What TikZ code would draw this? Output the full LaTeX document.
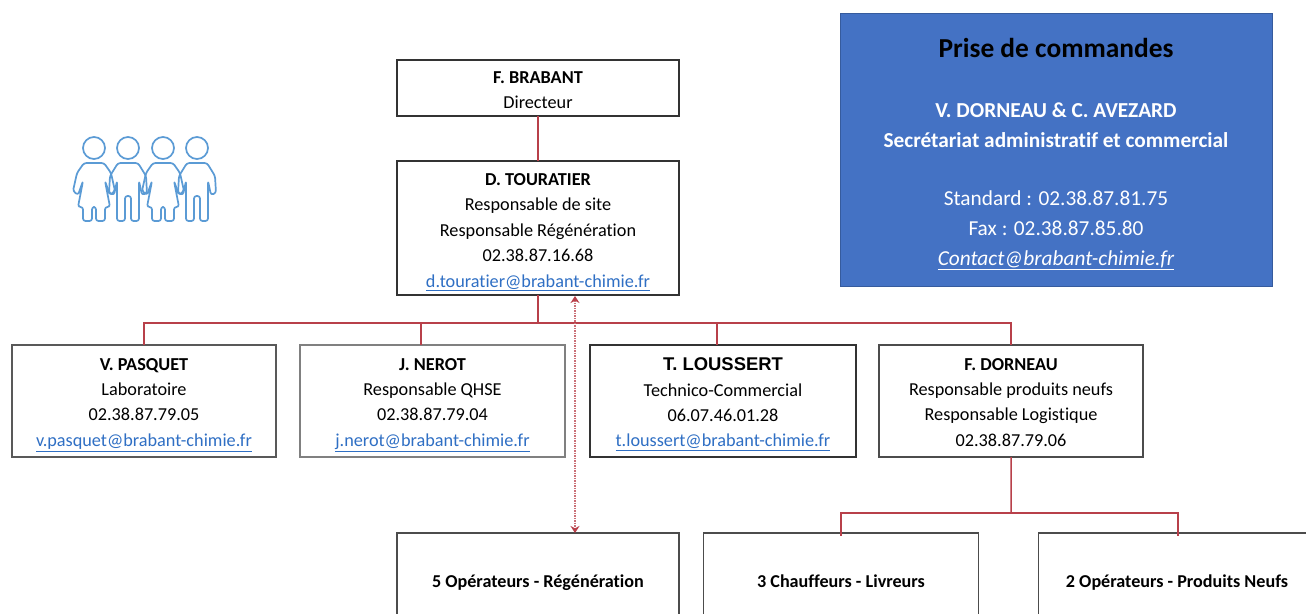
\documentclass[tikz,border=0pt]{standalone}
\usepackage{fontspec}
\setmainfont[Ligatures=NoCommon]{Carlito}
\newfontfamily\arialfont{Liberation Sans}
\usepackage{xcolor}
\usetikzlibrary{arrows.meta,positioning}
\definecolor{BARRED}{HTML}{B8404A}
\definecolor{LINKBLUE}{HTML}{2F6FC4}
\definecolor{ICONBLUE}{HTML}{5B9BD5}
\definecolor{BOXBLUE}{HTML}{4472C4}
\newcommand{\mailto}[1]{\textcolor{LINKBLUE}{\underline{#1}}}
\newcommand{\lift}[1]{\rule{0pt}{#1}}
\tikzstyle{PERSON} = [rectangle, draw=black!80, line width=1.2bp, align=center, inner sep=0pt, outer sep=0pt, font=\fontsize{18.3}{25.5}\selectfont]
\tikzstyle{TEAM} = [PERSON, draw=black!70, minimum height=96bp, text height=14bp, text depth=1bp, font=\fontsize{18.2}{20}\selectfont\bfseries]
\tikzstyle{LINE} = [draw=BARRED, line width=1.5bp]
\tikzstyle{DOTLINE} = [draw=BARRED!75, line width=1.5bp, densely dotted, {Stealth[length=7bp,width=9bp,color=BARRED]}-{Stealth[length=7bp,width=9bp,color=BARRED]}]
\tikzstyle{FIGURE} = [draw=ICONBLUE, line width=1.7bp, line join=round]
\tikzset{
  girl/.pic={
    \draw [FIGURE] (0,0) circle (11);
    \draw [FIGURE, rounded corners=2.5] (-10,15) -- (10,15) -- (17,25) -- (21,43) -- (16,47) -- (11,33) -- (16,59) -- (11,59) -- (11,73) -- (2,73) -- (2,59) -- (-2,59) -- (-2,73) -- (-11,73) -- (-11,59) -- (-16,59) -- (-11,33) -- (-16,47) -- (-21,43) -- (-17,25) -- cycle;
  },
  boy/.pic={
    \draw [FIGURE] (0,0) circle (11);
    \draw [FIGURE, rounded corners=2.5] (-10,15) -- (10,15) -- (18,28) -- (19,45) -- (14,47) -- (11,33) -- (11,73) -- (3,73) -- (3,48) -- (-3,48) -- (-3,73) -- (-11,73) -- (-11,33) -- (-14,47) -- (-19,45) -- (-18,28) -- cycle;
  }
}
\begin{document}
\begin{tikzpicture}[x=1bp, y=-1bp]
\clip (0,0) rectangle (1306,614);
\fill [white] (0,0) rectangle (1306,614);
% Place nodes
\node [PERSON, minimum width=282bp, minimum height=56bp] (brabant) at (538,88) {\lift{16.5bp}\textbf{F. BRABANT}\\Directeur};
\node [PERSON, minimum width=282bp, minimum height=134bp, below=45bp of brabant] (touratier) {\lift{20.5bp}\textbf{D. TOURATIER}\\Responsable de site\\Responsable Régénération\\02.38.87.16.68\\\mailto{d.touratier@brabant-chimie.fr}};
\node [PERSON, draw=black!65, minimum width=264bp, minimum height=112bp] (pasquet) at (144,401) {\lift{19.5bp}\textbf{V. PASQUET}\\Laboratoire\\02.38.87.79.05\\\mailto{v.pasquet@brabant-chimie.fr}};
\node [PERSON, draw=black!50, minimum width=265bp, minimum height=112bp, right=24bp of pasquet] (nerot) {\lift{19.5bp}\textbf{J. NEROT}\\Responsable QHSE\\02.38.87.79.04\\\mailto{j.nerot@brabant-chimie.fr}};
\node [PERSON, minimum width=266bp, minimum height=112bp, right=25bp of nerot] (loussert) {\lift{19.5bp}{\arialfont\fontsize{18.5}{25.5}\selectfont\textbf{T. LOUSSERT}}\\Technico-Commercial\\06.07.46.01.28\\\mailto{t.loussert@brabant-chimie.fr}};
\node [PERSON, draw=black!70, minimum width=264bp, minimum height=112bp, right=23bp of loussert] (dorneau) {\lift{14.5bp}\textbf{F. DORNEAU}\\Responsable produits neufs\\Responsable Logistique\\02.38.87.79.06};
\node [TEAM, minimum width=282bp] (regen) at (538,581) {5 Opérateurs - Régénération};
\node [TEAM, minimum width=275bp] (chauffeurs) at (841,581) {3 Chauffeurs - Livreurs};
\node [TEAM, minimum width=277bp] (neufs) at (1177,581) {2 Opérateurs - Produits Neufs};
\node [rectangle, draw=BOXBLUE!80!black, fill=BOXBLUE, line width=1bp, text=white, align=center, inner sep=0pt, outer sep=0pt, minimum width=432bp, minimum height=272bp, font=\fontsize{21.4}{30}\selectfont] (commandes) at (1056,150) {\lift{27.5bp}{\fontsize{27.5}{30}\selectfont\bfseries\textcolor{black}{Prise de commandes}}\\[30.5bp]\textbf{V. DORNEAU \& C. AVEZARD}\\\textbf{Secrétariat administratif et commercial}\\[28bp]Standard : 02.38.87.81.75\\Fax : 02.38.87.85.80\\\textit{\underline{Contact@brabant-chimie.fr}}};
% Icon
\pic at (94,148) {girl};
\pic at (128,148) {boy};
\pic at (163,148) {girl};
\pic at (197,148) {boy};
% Junctions
\coordinate (bus) at (538,323);
\coordinate (nerotTop) at (421,345);
\coordinate (loussertTop) at (717,345);
\coordinate (subBus) at (1011,513);
\coordinate (chauffeursTop) at (841,536);
\coordinate (neufsTop) at (1178,536);
\coordinate (dotTop) at (575,296);
\coordinate (dotBottom) at (575,533);
% LINES and ARROWS
\path [LINE] (brabant) -- (touratier);
\path [LINE] (touratier) -- (bus);
\path [LINE] (bus) -| (pasquet);
\path [LINE] (bus) -| (nerotTop);
\path [LINE] (bus) -| (loussertTop);
\path [LINE] (bus) -| (dorneau);
\path [LINE] (dorneau) -- (subBus);
\path [LINE] (subBus) -| (chauffeursTop);
\path [LINE] (subBus) -| (neufsTop);
\path [DOTLINE] (dotTop) -- (dotBottom);
\end{tikzpicture}
\end{document}
